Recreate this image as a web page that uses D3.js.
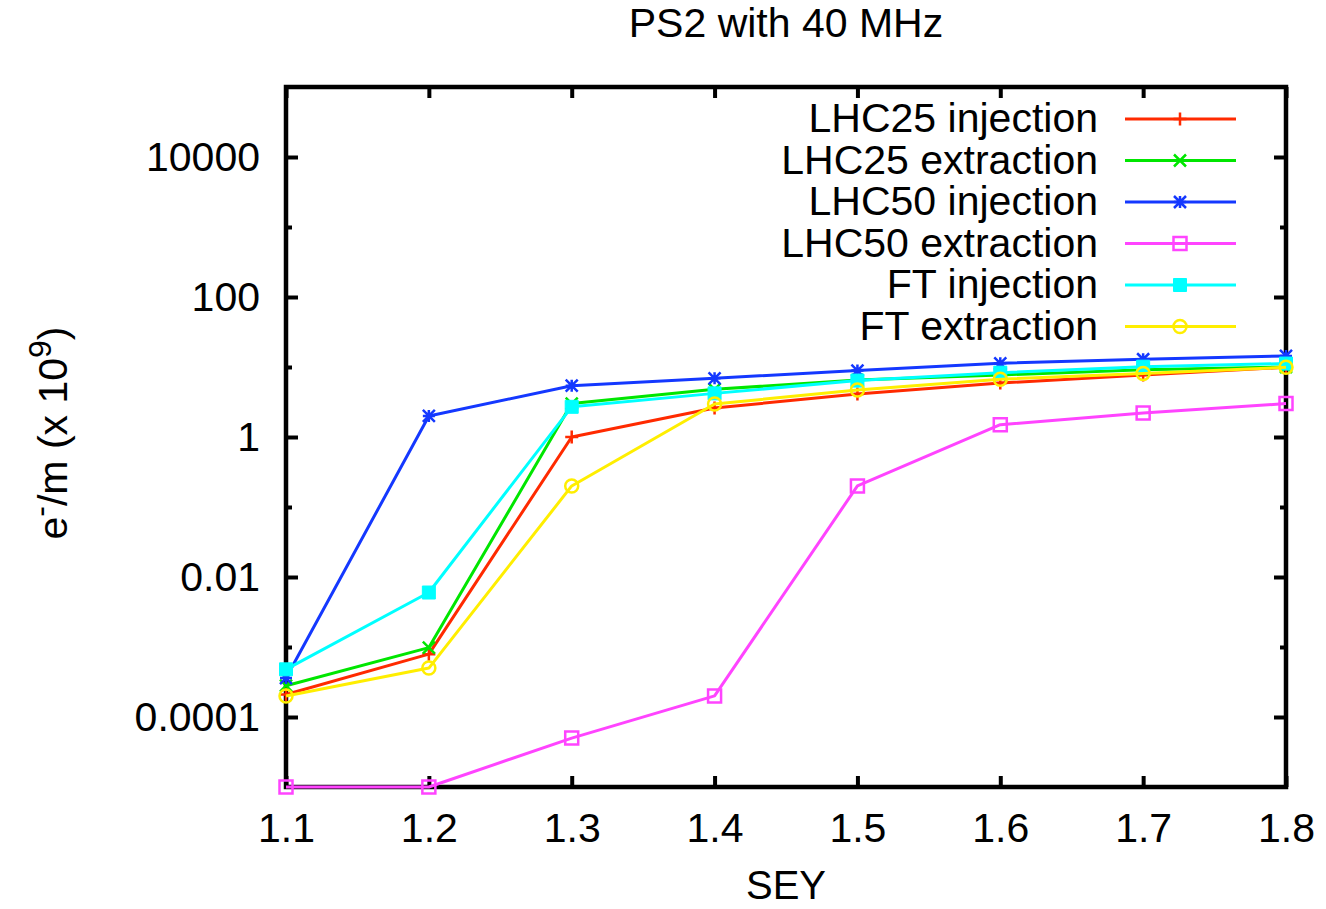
<!DOCTYPE html>
<html>
<head>
<meta charset="utf-8">
<script src="https://cdn.jsdelivr.net/npm/d3@7"></script>
<style>
  body { margin: 0; background: #fff; }
  svg { display: block; font-family: "Liberation Sans", Arial, sans-serif; }
</style>
</head>
<body>
<svg id="chart" width="1326" height="909"></svg>
<script>
// --- data ---
const sey = [1.1, 1.2, 1.3, 1.4, 1.5, 1.6, 1.7, 1.8];

const lhc25Injection  = [2.1e-4, 7.9e-4, 1.0, 2.6, 4.1, 5.9, 7.7, 9.9];
const lhc25Extraction = [2.8e-4, 9.8e-4, 3.0, 4.8, 6.5, 7.7, 9.1, 10.0];
const lhc50Injection  = [3.6e-4, 2.0, 5.4, 6.9, 8.9, 11.3, 12.9, 14.4];
const lhc50Extraction = [1e-5, 1e-5, 5.0e-5, 2.0e-4, 0.2, 1.5, 2.2, 3.0];
const ftInjection     = [4.8e-4, 6.0e-3, 2.7, 4.2, 6.4, 8.3, 10.1, 11.2];
const ftExtraction    = [2.0e-4, 5.0e-4, 0.2, 2.96, 4.7, 6.7, 8.1, 9.9];

const seriesNames = ['LHC25 injection', 'LHC25 extraction', 'LHC50 injection',
                     'LHC50 extraction', 'FT injection', 'FT extraction'];
const seriesValues = [lhc25Injection, lhc25Extraction, lhc50Injection,
                      lhc50Extraction, ftInjection, ftExtraction];
const seriesColors = ['#ff2a00', '#00e600', '#1438ff', '#ff44ff', '#00ffff', '#ffee00'];
const seriesMarkers = ['plus', 'cross', 'star', 'square', 'fsquare', 'circle'];

const yMajorTicks = [1e-4, 1e-2, 1, 1e2, 1e4];
const yMajorLabels = ['0.0001', '0.01', '1', '100', '10000'];
const yMinorTicks = [1e-3, 1e-1, 10, 1e3];

// --- layout ---
const margin = { left: 286, right: 40, top: 87, bottom: 122 };
const W = 1326, H = 909;
const fontSize = 41;

const svg = d3.select('#chart');

const x = d3.scaleLinear().domain([1.1, 1.8]).range([margin.left, W - margin.right]);
const y = d3.scaleLog().domain([1e-5, 1e5]).range([H - margin.bottom, margin.top]);

const plotL = x.range()[0], plotR = x.range()[1];
const plotT = y.range()[1], plotB = y.range()[0];

function styleAxis(g) {
    g.select('.domain').remove();
    g.selectAll('.tick line').attr('stroke', '#000').attr('stroke-width', 4);
    g.selectAll('.tick text').attr('fill', '#000');
    g.attr('font-size', fontSize).attr('font-family', null);
}

// x axis bottom + mirrored top
svg.append('g')
    .attr('transform', `translate(0,${plotB})`)
    .call(d3.axisBottom(x).tickValues(sey).tickFormat(d3.format('.1f')).tickSize(-11).tickPadding(26))
    .call(styleAxis);
svg.append('g')
    .attr('transform', `translate(0,${plotT})`)
    .call(d3.axisTop(x).tickValues(sey).tickFormat('').tickSize(-11))
    .call(styleAxis);

// y axis left + mirrored right, major and minor
svg.append('g')
    .attr('transform', `translate(${plotL},0)`)
    .call(d3.axisLeft(y).tickValues(yMajorTicks)
        .tickFormat((d, i) => yMajorLabels[i]).tickSize(-12).tickPadding(26))
    .call(styleAxis);
svg.append('g')
    .attr('transform', `translate(${plotL},0)`)
    .call(d3.axisLeft(y).tickValues(yMinorTicks).tickFormat('').tickSize(-6))
    .call(styleAxis);
svg.append('g')
    .attr('transform', `translate(${plotR},0)`)
    .call(d3.axisRight(y).tickValues(yMajorTicks).tickFormat('').tickSize(-12))
    .call(styleAxis);
svg.append('g')
    .attr('transform', `translate(${plotR},0)`)
    .call(d3.axisRight(y).tickValues(yMinorTicks).tickFormat('').tickSize(-6))
    .call(styleAxis);

// border
svg.append('rect')
    .attr('x', plotL).attr('y', plotT)
    .attr('width', plotR - plotL).attr('height', plotB - plotT)
    .attr('fill', 'none').attr('stroke', '#000').attr('stroke-width', 4.5);

// title and axis labels
svg.append('text')
    .attr('x', (plotL + plotR) / 2).attr('y', 37)
    .attr('text-anchor', 'middle').attr('font-size', fontSize)
    .text('PS2 with 40 MHz');

svg.append('text')
    .attr('x', (plotL + plotR) / 2).attr('y', 899)
    .attr('text-anchor', 'middle').attr('font-size', 40)
    .text('SEY');

const yLabel = svg.append('text')
    .attr('transform', `translate(67,${(plotT + plotB) / 2 - 4}) rotate(-90)`)
    .attr('text-anchor', 'middle').attr('font-size', fontSize);
yLabel.append('tspan').text('e');
yLabel.append('tspan').attr('dy', -16).attr('font-size', 32).text('-');
yLabel.append('tspan').attr('dy', 16).text('/m (x 10');
yLabel.append('tspan').attr('dy', -16).attr('font-size', 32).text('9');
yLabel.append('tspan').attr('dy', 16).text(')');

// markers
function markerPath(type, r) {
    const p = d3.path();
    if (type === 'plus' || type === 'star') {
        p.moveTo(-r, 0); p.lineTo(r, 0);
        p.moveTo(0, -r); p.lineTo(0, r);
    }
    if (type === 'cross' || type === 'star') {
        p.moveTo(-r, -r); p.lineTo(r, r);
        p.moveTo(-r, r); p.lineTo(r, -r);
    }
    if (type === 'square' || type === 'fsquare') {
        p.rect(-r, -r, 2 * r, 2 * r);
    }
    if (type === 'circle') {
        p.moveTo(r, 0); p.arc(0, 0, r, 0, 2 * Math.PI);
    }
    return p.toString();
}

function drawMarker(g, type, color, cx, cy) {
    const r = (type === 'star' || type === 'cross') ? 6 : 6.5;
    g.append('path')
        .attr('d', markerPath(type, r))
        .attr('transform', `translate(${cx},${cy})`)
        .attr('fill', type === 'fsquare' ? color : 'none')
        .attr('stroke', color)
        .attr('stroke-width', type === 'fsquare' ? 1 : 2.5);
}

const line = d3.line()
    .x((d, i) => x(sey[i]))
    .y(d => y(d));

const dataGroup = svg.append('g');
seriesValues.forEach((vals, k) => {
    const g = dataGroup.append('g');
    g.append('path')
        .datum(vals)
        .attr('d', line)
        .attr('fill', 'none')
        .attr('stroke', seriesColors[k])
        .attr('stroke-width', 3)
        .attr('stroke-linejoin', 'round');
    vals.forEach((v, i) => drawMarker(g, seriesMarkers[k], seriesColors[k], x(sey[i]), y(v)));
});

// legend
const legend = svg.append('g');
seriesNames.forEach((name, k) => {
    const ry = 119 + k * 41.5;
    legend.append('text')
        .attr('x', 1098).attr('y', ry + 13)
        .attr('text-anchor', 'end').attr('font-size', fontSize)
        .text(name);
    legend.append('line')
        .attr('x1', 1125).attr('x2', 1236)
        .attr('y1', ry).attr('y2', ry)
        .attr('stroke', seriesColors[k]).attr('stroke-width', 3);
    drawMarker(legend, seriesMarkers[k], seriesColors[k], 1180, ry);
});
</script>
</body>
</html>
